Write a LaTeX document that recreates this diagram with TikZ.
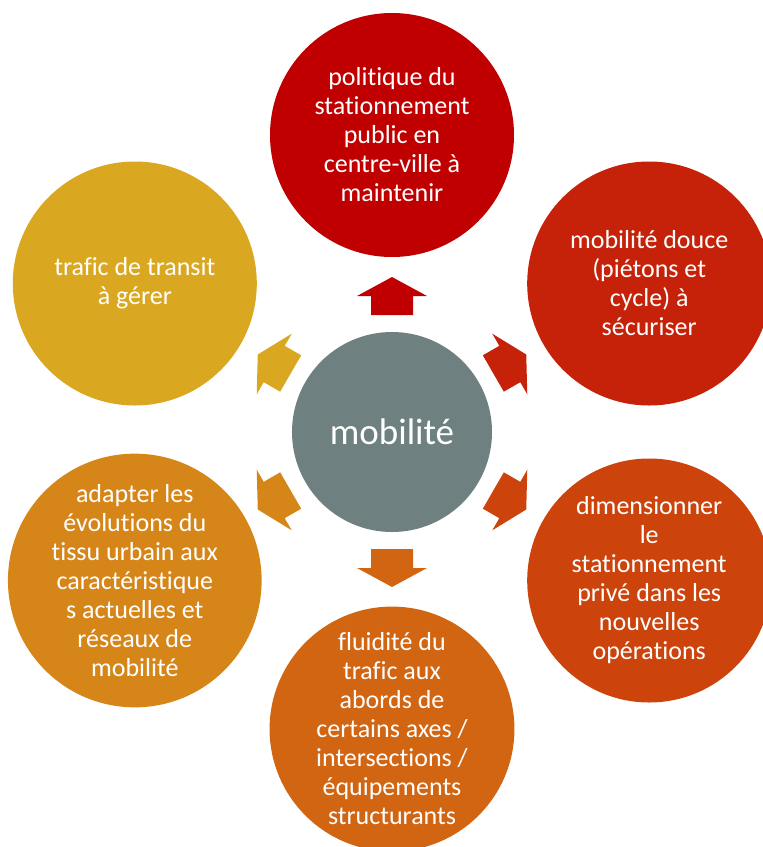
\documentclass[tikz,border=0pt]{standalone}
\usepackage{fontspec}
\setmainfont[Ligatures=NoCommon]{Carlito}
\usetikzlibrary{calc}
\definecolor{hubgray}{RGB}{110,128,128}
\definecolor{redA}{RGB}{192,0,0}
\definecolor{redB}{RGB}{197,34,9}
\definecolor{orangeA}{RGB}{204,68,12}
\definecolor{orangeB}{RGB}{209,101,18}
\definecolor{orangeC}{RGB}{214,134,25}
\definecolor{goldA}{RGB}{218,168,32}

\begin{document}
\begin{tikzpicture}[x=1pt,y=1pt,font=\fontsize{26}{29}\selectfont,
  bubble/.style={circle,minimum size=244pt,inner sep=0pt,align=center,text=white}]
\useasboundingbox (0,0) rectangle (763,-847);
% centre
\node[circle,fill=hubgray,minimum size=200pt,inner sep=0pt,text=white,
  font=\fontsize{37}{44}\selectfont] (hub) at (392,-432) {mobilité};
% outer circles
\node[bubble,fill=redA] (parking) at ($(hub)+(90:297)$)
  {politique du\\stationnement\\public en\\centre-ville à\\maintenir};
\node[bubble,fill=redB] (soft) at ($(hub)+(30:297)$)
  {mobilité douce\\(piétons et\\cycle) à\\sécuriser};
\node[bubble,fill=orangeA] (private) at ($(hub)+(-30:297)$)
  {dimensionner\\le\\stationnement\\privé dans les\\nouvelles\\opérations};
\node[bubble,fill=orangeB] (flow) at ($(hub)+(-90:297)$)
  {fluidité du\\trafic aux\\abords de\\certains axes /\\intersections /\\équipements\\structurants};
\node[bubble,fill=orangeC] (urban) at ($(hub)+(-150:297)$)
  {adapter les\\évolutions du\\tissu urbain aux\\caractéristique\\s actuelles et\\réseaux de\\mobilité};
\node[bubble,fill=goldA] (transit) at ($(hub)+(150:297)$)
  {trafic de transit\\à gérer};
% block arrows
\foreach \a/\col in {90/redA,30/redB,-30/orangeA,-90/orangeB,-150/orangeC,150/goldA}{
  \begin{scope}[shift={(hub)},rotate=\a]
    \fill[\col] (117,-21) -- (136,-21) -- (136,-35) -- (155,0) -- (136,35)
      -- (136,21) -- (117,21) -- cycle;
  \end{scope}
}
\end{tikzpicture}
\end{document}
